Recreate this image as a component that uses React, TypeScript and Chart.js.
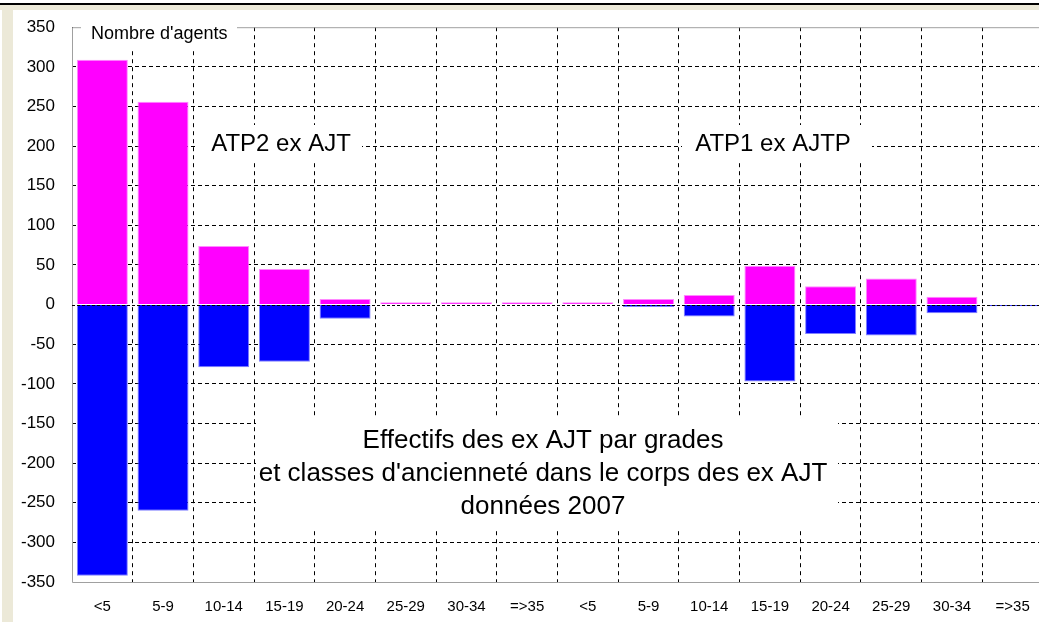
import React, { useEffect, useRef } from "react";
import { Chart, registerables } from "chart.js";

Chart.register(...registerables);

const categories = [
  "<5", "5-9", "10-14", "15-19", "20-24", "25-29", "30-34", "=>35",
  "<5", "5-9", "10-14", "15-19", "20-24", "25-29", "30-34", "=>35",
];
const positiveValues = [309, 256, 74, 45, 7, 3, 3, 3, 3, 7, 12, 49, 23, 33, 10, 0];
const negativeValues = [-342, -260, -79, -72, -18, 0, 0, 0, 0, -3, -15, -97, -37, -39, -11, -2];
const yMin = -350;
const yMax = 350;
const yStep = 50;
const axisTitle = "Nombre d'agents";
const groupLabels = ["ATP2 ex AJT", "ATP1 ex AJTP"];
const noteLines = [
  "Effectifs des ex AJT par grades",
  "et classes d'ancienneté dans le corps des ex AJT",
  "données 2007",
];

const FONT = "'Liberation Sans', Arial, sans-serif";

const overlayPlugin = {
  id: "overlay",
  beforeDatasetsDraw(chart: any) {
    const { ctx, chartArea: a } = chart;
    ctx.save();
    // white boxes that hide gridlines behind the notes
    ctx.fillStyle = "#ffffff";
    ctx.fillRect(81, 18, 156, 33);
    ctx.fillRect(198, 125, 164, 37);
    ctx.fillRect(682, 125, 190, 37);
    ctx.fillRect(256, 416, 582, 112);
    // frame
    ctx.strokeStyle = "#a0a0a0";
    ctx.lineWidth = 1;
    ctx.beginPath();
    ctx.moveTo(a.right + 2, a.top + 0.5);
    ctx.lineTo(237, a.top + 0.5);
    ctx.moveTo(81, a.top + 0.5);
    ctx.lineTo(a.left + 0.5, a.top + 0.5);
    ctx.lineTo(a.left + 0.5, a.bottom + 0.5);
    ctx.lineTo(a.right + 2, a.bottom + 0.5);
    ctx.stroke();
    ctx.restore();
  },
  afterDatasetsDraw(chart: any) {
    const { ctx, chartArea: a, scales } = chart;
    const y0 = Math.round(scales.y.getPixelForValue(0)) + 0.5;
    ctx.save();
    ctx.strokeStyle = "#000";
    ctx.lineWidth = 1;
    ctx.setLineDash([3, 2]);
    ctx.beginPath();
    ctx.moveTo(a.left, y0);
    ctx.lineTo(a.right, y0);
    ctx.stroke();
    ctx.setLineDash([]);

    ctx.fillStyle = "#000";
    ctx.textBaseline = "middle";
    ctx.textAlign = "left";
    ctx.font = `18px ${FONT}`;
    ctx.fillText(axisTitle, 91, 34);

    ctx.textAlign = "center";
    ctx.font = `24px ${FONT}`;
    ctx.fillText(groupLabels[0], 281, 144);
    ctx.fillText(groupLabels[1], 773, 144);

    ctx.font = `26px ${FONT}`;
    const lineYs = [441, 474, 507];
    noteLines.forEach((t, i) => ctx.fillText(t, 543, lineYs[i]));
    ctx.restore();
  },
};

export default function App() {
  const canvasRef = useRef<HTMLCanvasElement | null>(null);

  useEffect(() => {
    document.body.style.margin = "0";
    const canvas = canvasRef.current;
    if (!canvas) return;
    const chart = new Chart(canvas, {
      type: "bar",
      data: {
        labels: categories,
        datasets: [
          {
            label: "positive",
            data: positiveValues,
            backgroundColor: "#ff00ff",
            borderColor: "#ff88ff",
            borderWidth: 1,
            barPercentage: 0.84,
            categoryPercentage: 1,
          },
          {
            label: "negative",
            data: negativeValues,
            backgroundColor: "#0000ff",
            borderColor: "#8080ff",
            borderWidth: 1,
            barPercentage: 0.84,
            categoryPercentage: 1,
          },
        ],
      },
      options: {
        responsive: false,
        animation: false,
        layout: { padding: { top: 27, right: 3, left: 0, bottom: 0 } },
        plugins: {
          legend: { display: false },
          title: { display: false },
          tooltip: { enabled: false },
        },
        scales: {
          x: {
            stacked: true,
            offset: true,
            grid: {
              offset: true,
              drawTicks: false,
              color: "#000",
              lineWidth: 1,
            },
            border: { display: false, dash: [4, 4] },
            ticks: {
              color: "#000",
              font: { family: FONT, size: 15 },
              padding: 16,
              maxRotation: 0,
              autoSkip: false,
            },
            afterFit: (s: any) => {
              s.height = 40;
            },
          },
          y: {
            stacked: true,
            min: yMin,
            max: yMax,
            grid: {
              drawTicks: false,
              color: (c: any) =>
                c.tick && (c.tick.value === yMax || c.tick.value === yMin || c.tick.value === 0)
                  ? "rgba(0,0,0,0)"
                  : "#000",
              lineWidth: 1,
            },
            border: { display: false, dash: [4, 3] },
            ticks: {
              stepSize: yStep,
              color: "#000",
              font: { family: FONT, size: 17 },
              padding: 17,
            },
            afterFit: (s: any) => {
              s.width = 72;
            },
          },
        },
      },
      plugins: [overlayPlugin],
    });
    return () => chart.destroy();
  }, []);

  return (
    <div
      style={{
        position: "fixed",
        left: 0,
        top: 0,
        width: 1039,
        height: 622,
        overflow: "hidden",
        background: "#fff",
      }}
    >
      <div style={{ position: "absolute", left: 0, top: 3, width: 1039, height: 2, background: "#000" }} />
      <div style={{ position: "absolute", left: 0, top: 5, width: 1039, height: 5, background: "#ece9d8" }} />
      <div style={{ position: "absolute", left: 2, top: 5, width: 11, height: 617, background: "#ece9d8" }} />
      <div style={{ position: "absolute", left: 0, top: 0 }}>
        <canvas ref={canvasRef} width={1046} height={622} />
      </div>
    </div>
  );
}
